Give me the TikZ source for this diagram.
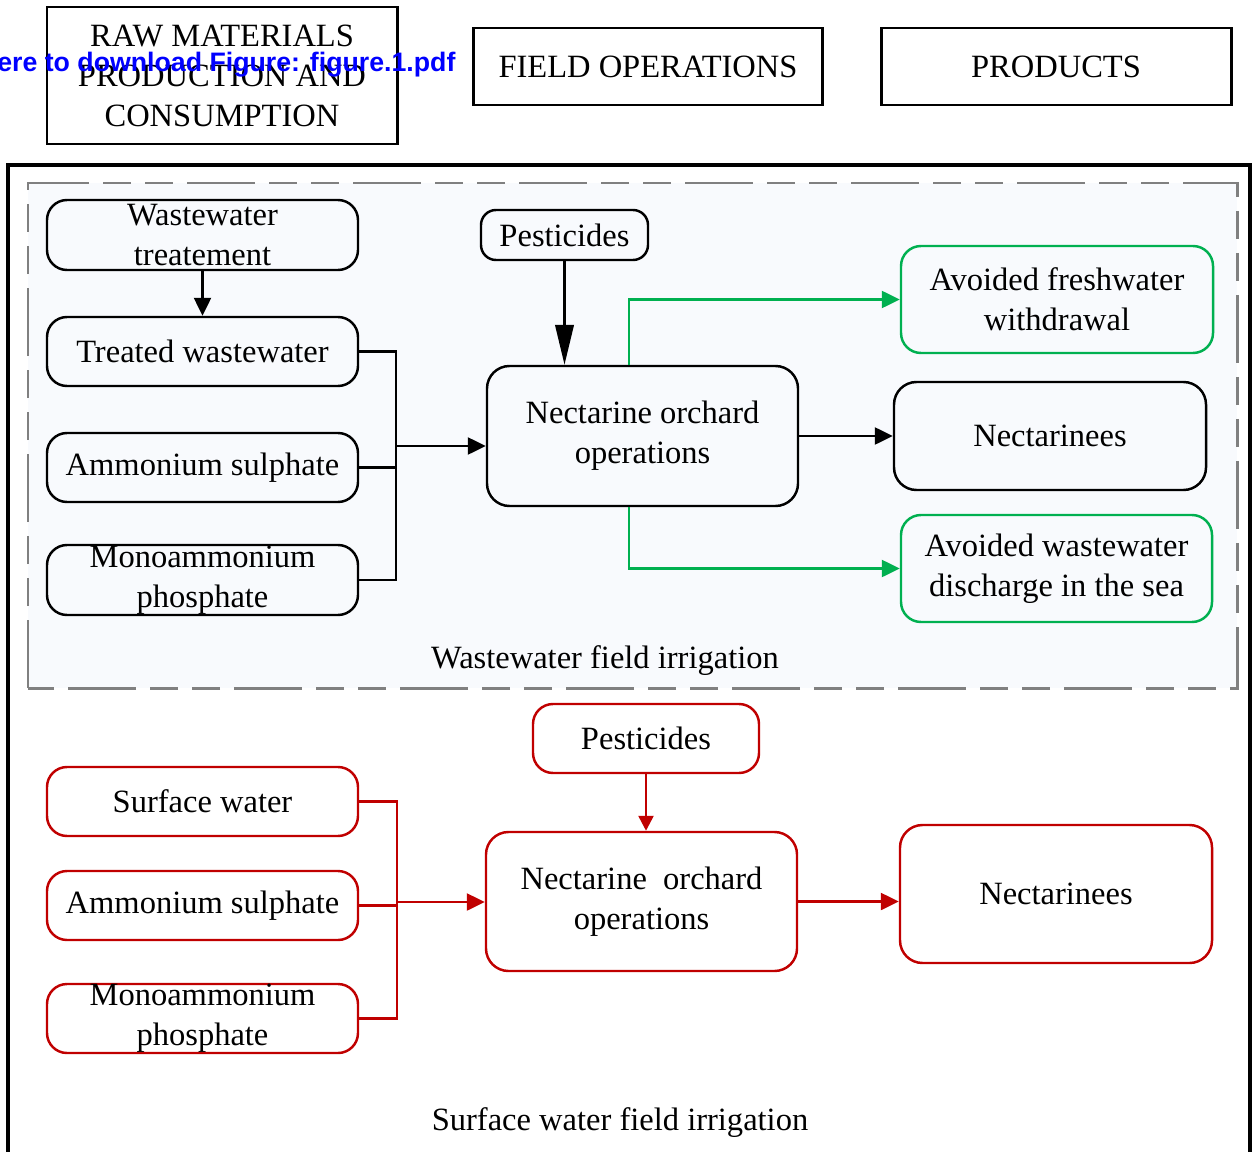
\documentclass[tikz,border=0pt]{standalone}
\usepackage{fontspec}
\setmainfont{Liberation Serif}
\newfontfamily\bannerfont{Liberation Sans}
\usetikzlibrary{arrows.meta}
\newcommand{\boxfont}{\fontsize{18.5}{22.8}\selectfont}
\definecolor{okgreen}{RGB}{0,176,80}
\definecolor{darkred}{RGB}{192,0,0}
\definecolor{dashgray}{RGB}{128,128,128}
\definecolor{paleblue}{RGB}{248,250,253}

\begin{document}
\begin{tikzpicture}
    \tikzstyle{head}=[draw, line width=1.7pt, inner sep=0pt, align=center, font=\boxfont]
    \tikzstyle{box}=[draw, line width=1.4pt, rounded corners=0.4cm, inner sep=0pt, align=center,
        minimum width=6.22cm, minimum height=1.38cm, font=\boxfont]
    \tikzstyle{green box}=[box, draw=okgreen, minimum width=6.24cm, minimum height=2.14cm]
    \tikzstyle{red box}=[box, draw=darkred]
    \tikzstyle{label}=[fill=none, draw=none, inner sep=0pt, font=\boxfont]
    \tikzstyle{arrow}=[-{Triangle[length=0.36cm,width=0.34cm]}, line width=1.4pt]
    \tikzstyle{line}=[line width=1.4pt]
    \useasboundingbox (0,0) rectangle (25.04,23.02);

    % column headings
    \node [style=head, minimum width=7cm, minimum height=2.74cm] (raw) at (4.44, 21.51)
        {RAW MATERIALS\\PRODUCTION AND\\CONSUMPTION};
    \node [style=head, minimum width=6.98cm, minimum height=1.54cm] (field) at (12.96, 21.69) {FIELD OPERATIONS};
    \node [style=head, minimum width=7cm, minimum height=1.54cm] (prod) at (21.12, 21.69) {PRODUCTS};
    \node [anchor=west, inner sep=0pt, text=blue, font=\bannerfont\bfseries\fontsize{15.2}{18}\selectfont]
        (banner) at (-0.06, 21.72) {ere to download Figure: figure.1.pdf};

    % frames
    \draw [line width=2.3pt] (0.16,-0.5) -- (0.16,19.72) -- (25.0,19.72) -- (25.0,-0.5);
    \draw [draw=dashgray, fill=paleblue, line width=1.7pt,
        dash pattern=on 1.36cm off 0.28cm on 0.56cm off 0.28cm on 0.56cm off 0.28cm]
        (0.56,9.26) rectangle (24.74,19.36);
    \node [style=label] (wlabel) at (12.1, 9.8) {Wastewater field irrigation};
    \node [style=label] (slabel) at (12.4, 0.56) {Surface water field irrigation};

    % wastewater irrigation
    \node [style=box, minimum height=1.4cm] (wt) at (4.05, 18.32) {Wastewater\\treatement};
    \node [style=box] (tw) at (4.05, 15.99) {Treated wastewater};
    \node [style=box] (as) at (4.05, 13.67) {Ammonium sulphate};
    \node [style=box, minimum height=1.4cm] (ms) at (4.05, 11.42) {Monoammonium\\phosphate};
    \node [style=box, rounded corners=0.3cm, minimum width=3.34cm, minimum height=1cm] (pw) at (11.29, 18.32) {Pesticides};
    \node [style=box, rounded corners=0.45cm, minimum height=2.8cm] (no) at (12.85, 14.30) {Nectarine orchard\\operations};
    \node [style=box, rounded corners=0.45cm, minimum width=6.24cm, minimum height=2.16cm] (nt) at (21.0, 14.30) {Nectarinees};
    \node [style=green box] (afw) at (21.14, 17.03) {Avoided freshwater\\withdrawal};
    \node [style=green box, minimum width=6.22cm] (awd) at (21.13, 11.65) {Avoided wastewater\\discharge in the sea};
    \coordinate (wbus) at (7.92, 14.10);

    \draw [style=arrow] (wt) -- (tw);
    \draw [style=line] (tw.east) -| (wbus);
    \draw [style=line] (as.east) -| (wbus);
    \draw [style=line] (ms.east) -| (wbus);
    \draw [style=arrow] (wbus) -- (wbus -| no.west);
    \draw [-{Triangle[length=0.8cm,width=0.37cm]}, line width=1.4pt] (pw.south) -- (pw.south |- no.north);
    \draw [style=arrow] (no.east) -- (nt.west);
    \draw [style=arrow, color=okgreen] ([xshift=-0.27cm]no.north) |- (afw.west);
    \draw [style=arrow, color=okgreen] ([xshift=-0.27cm]no.south) |- (awd.west);

    % surface water irrigation
    \node [style=red box, minimum width=4.52cm] (rps) at (12.92, 8.25) {Pesticides};
    \node [style=red box] (sw) at (4.05, 6.99) {Surface water};
    \node [style=red box] (ras) at (4.05, 4.91) {Ammonium sulphate};
    \node [style=red box] (rms) at (4.05, 2.65) {Monoammonium\\phosphate};
    \node [style=red box, rounded corners=0.45cm, minimum height=2.78cm] (rno) at (12.83, 4.99) {Nectarine\ \ orchard\\operations};
    \node [style=red box, rounded corners=0.45cm, minimum width=6.24cm, minimum height=2.76cm] (rnt) at (21.12, 5.14) {Nectarinees};
    \coordinate (rbus) at (7.94, 4.98);

    \draw [style=line, color=darkred] (sw.east) -| (rbus);
    \draw [style=line, color=darkred] (ras.east) -| (rbus);
    \draw [style=line, color=darkred] (rms.east) -| (rbus);
    \draw [style=arrow, color=darkred] (rbus) -- (rbus -| rno.west);
    \draw [-{Triangle[length=0.3cm,width=0.3cm]}, line width=1.4pt, color=darkred] (rps.south) -- (rps.south |- rno.north);
    \draw [style=arrow, color=darkred] (rno.east) -- (rno.east -| rnt.west);
\end{tikzpicture}
\end{document}
